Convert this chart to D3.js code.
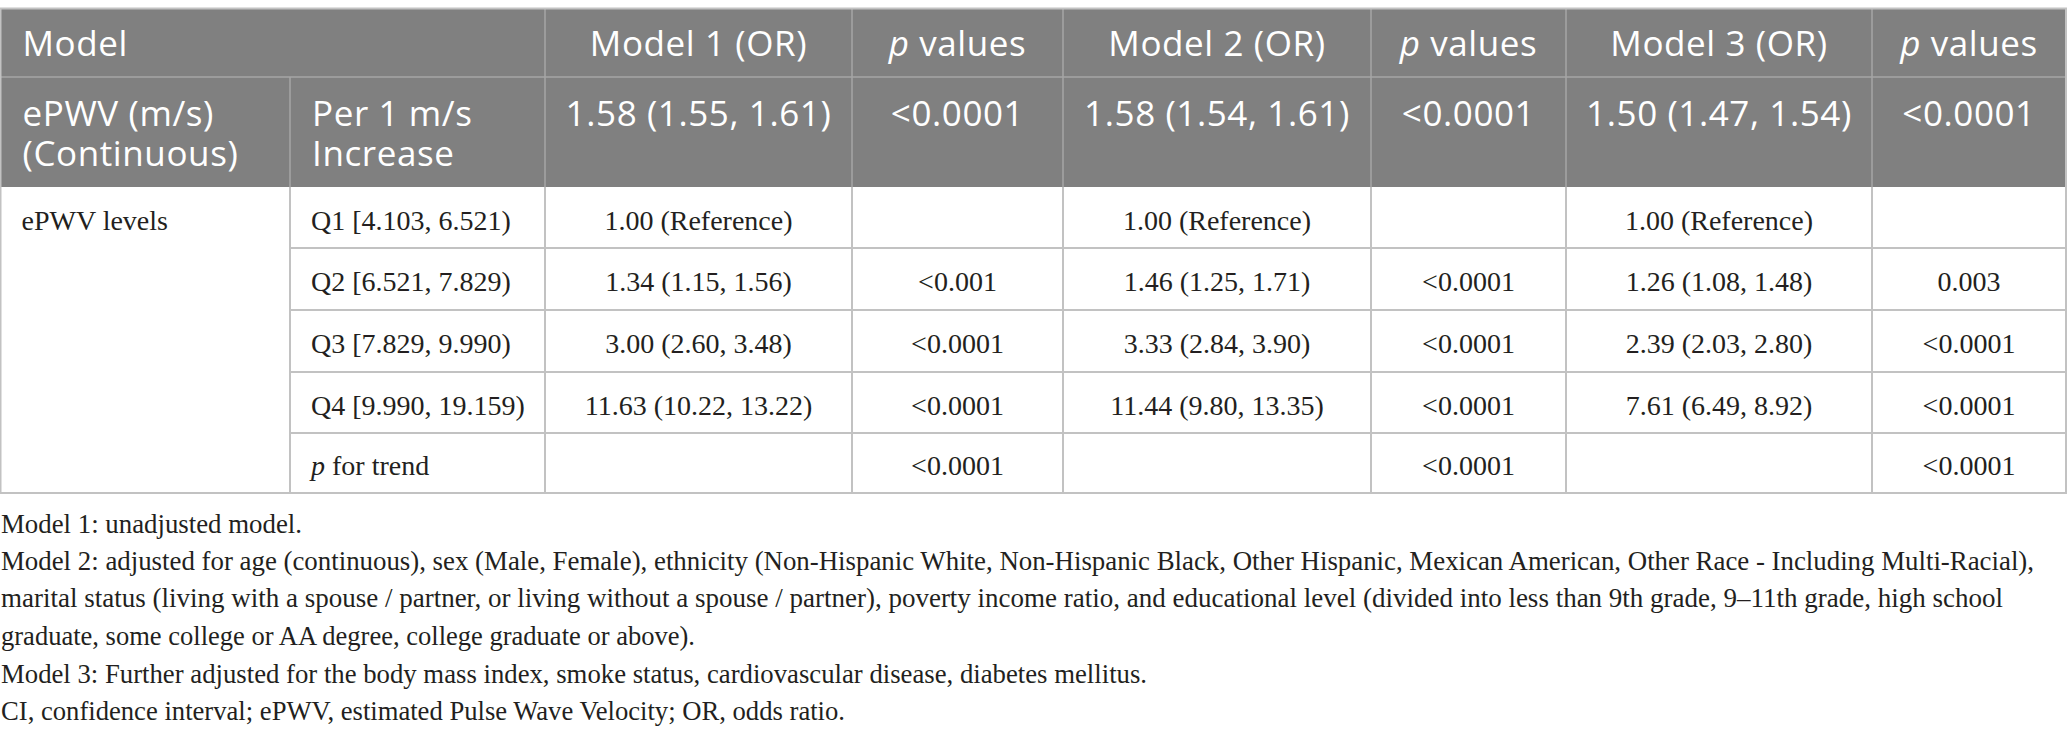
<!DOCTYPE html>
<html>
<head>
<meta charset="utf-8">
<script src="https://cdn.jsdelivr.net/npm/d3@7"></script>
<style>
  html, body { margin: 0; padding: 0; background: #fff; }
  svg { display: block; }
</style>
</head>
<body>
<svg id="chart" width="2067" height="738"></svg>
<script>
// ---------- DATA ----------
const headerTop = ["Model", "Model 1 (OR)", "p values", "Model 2 (OR)", "p values", "Model 3 (OR)", "p values"];
const continuousLabel = ["ePWV (m/s)", "(Continuous)"];
const continuousUnit = ["Per 1 m/s", "Increase"];
const continuousOR = ["1.58 (1.55, 1.61)", "1.58 (1.54, 1.61)", "1.50 (1.47, 1.54)"];
const continuousP = ["<0.0001", "<0.0001", "<0.0001"];

const groupLabel = "ePWV levels";
const levels = ["Q1 [4.103, 6.521)", "Q2 [6.521, 7.829)", "Q3 [7.829, 9.990)", "Q4 [9.990, 19.159)", "p for trend"];
const model1OR = ["1.00 (Reference)", "1.34 (1.15, 1.56)", "3.00 (2.60, 3.48)", "11.63 (10.22, 13.22)", ""];
const model1P  = ["", "<0.001", "<0.0001", "<0.0001", "<0.0001"];
const model2OR = ["1.00 (Reference)", "1.46 (1.25, 1.71)", "3.33 (2.84, 3.90)", "11.44 (9.80, 13.35)", ""];
const model2P  = ["", "<0.0001", "<0.0001", "<0.0001", "<0.0001"];
const model3OR = ["1.00 (Reference)", "1.26 (1.08, 1.48)", "2.39 (2.03, 2.80)", "7.61 (6.49, 8.92)", ""];
const model3P  = ["", "0.003", "<0.0001", "<0.0001", "<0.0001"];

const footnotes = [
  "Model 1: unadjusted model.",
  "Model 2: adjusted for age (continuous), sex (Male, Female), ethnicity (Non-Hispanic White, Non-Hispanic Black, Other Hispanic, Mexican American, Other Race - Including Multi-Racial),",
  "marital status (living with a spouse / partner, or living without a spouse / partner), poverty income ratio, and educational level (divided into less than 9th grade, 9\u201311th grade, high school",
  "graduate, some college or AA degree, college graduate or above).",
  "Model 3: Further adjusted for the body mass index, smoke status, cardiovascular disease, diabetes mellitus.",
  "CI, confidence interval; ePWV, estimated Pulse Wave Velocity; OR, odds ratio."
];

// ---------- LAYOUT ----------
const colEdges = [0.5, 290, 545, 852, 1063, 1371, 1566, 1872, 2066];
const rowEdges = [8.5, 77, 187, 248, 310, 372, 433, 493];
const footWidths = [301, 2033, 2002, 694, 1146, 844];
const footBaselines = [533, 570, 607, 645, 683, 720];

const headFont = "'Open Sans', Lato, sans-serif";
const bodyFont = "'Liberation Serif', 'DejaVu Serif', serif";
const headBg = "#808080";
const gridCol = "#c2c2c2";
const headGrid = "#a6a6a6";
const textCol = "#231f20";

const svg = d3.select("#chart");

// column / row scales (ordinal index -> edge)
const xEdge = d3.scaleOrdinal().domain(d3.range(colEdges.length)).range(colEdges);
const yEdge = d3.scaleOrdinal().domain(d3.range(rowEdges.length)).range(rowEdges);
const colMid = i => (xEdge(i) + xEdge(i + 1)) / 2;
const rowMid = i => (yEdge(i) + yEdge(i + 1)) / 2;

// ---------- HEADER BACKGROUND ----------
svg.append("rect")
  .attr("x", xEdge(0)).attr("y", yEdge(0))
  .attr("width", xEdge(8) - xEdge(0)).attr("height", yEdge(2) - yEdge(0))
  .attr("fill", headBg);

// ---------- GRID LINES ----------
const g = svg.append("g").attr("class", "grid");
g.append("line").attr("x1", xEdge(0)).attr("x2", xEdge(8))
  .attr("y1", yEdge(1)).attr("y2", yEdge(1))
  .attr("stroke", headGrid).attr("stroke-width", 1.5);
d3.range(1, 8).forEach(c => {
  const y1 = c === 1 ? yEdge(1) : yEdge(0);
  g.append("line").attr("x1", xEdge(c)).attr("x2", xEdge(c))
    .attr("y1", y1).attr("y2", yEdge(2))
    .attr("stroke", headGrid).attr("stroke-width", 1.5);
});
d3.range(3, 7).forEach(r => {
  g.append("line").attr("x1", xEdge(1)).attr("x2", xEdge(8))
    .attr("y1", yEdge(r)).attr("y2", yEdge(r))
    .attr("stroke", gridCol).attr("stroke-width", 2);
});
d3.range(1, 8).forEach(c => {
  g.append("line").attr("x1", xEdge(c)).attr("x2", xEdge(c))
    .attr("y1", yEdge(2)).attr("y2", yEdge(7))
    .attr("stroke", gridCol).attr("stroke-width", 2);
});
g.append("rect")
  .attr("x", xEdge(0)).attr("y", yEdge(0))
  .attr("width", xEdge(8) - xEdge(0)).attr("height", yEdge(7) - yEdge(0))
  .attr("fill", "none").attr("stroke", gridCol).attr("stroke-width", 2);

// ---------- HEADER TEXT ----------
const head = svg.append("g")
  .attr("font-family", headFont).attr("font-size", 35)
  .attr("letter-spacing", 0.6).attr("fill", "#ffffff");

function pLabel(sel, txt) {
  if (txt.startsWith("p ")) {
    sel.append("tspan").attr("font-style", "italic").text("p");
    sel.append("tspan").text(txt.slice(1));
  } else {
    sel.text(txt);
  }
}

const headerCols = [0, 2, 3, 4, 5, 6, 7];
headerTop.forEach((t, i) => {
  const c = headerCols[i];
  const txt = head.append("text").attr("y", 56);
  if (i === 0) {
    txt.attr("x", xEdge(0) + 22).attr("text-anchor", "start");
  } else {
    txt.attr("x", colMid(c)).attr("text-anchor", "middle");
  }
  pLabel(txt, t);
});

const line1Y = 126, line2Y = 166;
continuousLabel.forEach((t, k) => {
  head.append("text").attr("x", xEdge(0) + 22).attr("y", k ? line2Y : line1Y).text(t);
});
continuousUnit.forEach((t, k) => {
  head.append("text").attr("x", xEdge(1) + 22).attr("y", k ? line2Y : line1Y).text(t);
});
continuousOR.forEach((t, m) => {
  head.append("text").attr("x", colMid(2 + m * 2)).attr("y", line1Y)
    .attr("text-anchor", "middle").text(t);
  head.append("text").attr("x", colMid(3 + m * 2)).attr("y", line1Y)
    .attr("text-anchor", "middle").text(continuousP[m]);
});

// ---------- BODY TEXT ----------
const body = svg.append("g")
  .attr("font-family", bodyFont).attr("font-size", 28).attr("fill", textCol);

body.append("text").attr("x", xEdge(0) + 21).attr("y", rowMid(2) + 12).text(groupLabel);

const columns = [model1OR, model1P, model2OR, model2P, model3OR, model3P];
levels.forEach((lv, r) => {
  const y = rowMid(2 + r) + 12;
  const t = body.append("text").attr("x", xEdge(1) + 21).attr("y", y);
  if (lv.startsWith("p ")) {
    t.append("tspan").attr("font-style", "italic").text("p");
    t.append("tspan").text(lv.slice(1));
  } else {
    t.text(lv);
  }
  columns.forEach((col, j) => {
    if (col[r]) {
      body.append("text").attr("x", colMid(2 + j)).attr("y", y)
        .attr("text-anchor", "middle").text(col[r]);
    }
  });
});

// ---------- FOOTNOTES ----------
const foot = svg.append("g")
  .attr("font-family", bodyFont).attr("font-size", 28).attr("fill", textCol);
footnotes.forEach((f, i) => {
  foot.append("text").attr("x", 1).attr("y", footBaselines[i])
    .attr("textLength", footWidths[i]).attr("lengthAdjust", "spacingAndGlyphs")
    .text(f);
});
</script>
</body>
</html>
